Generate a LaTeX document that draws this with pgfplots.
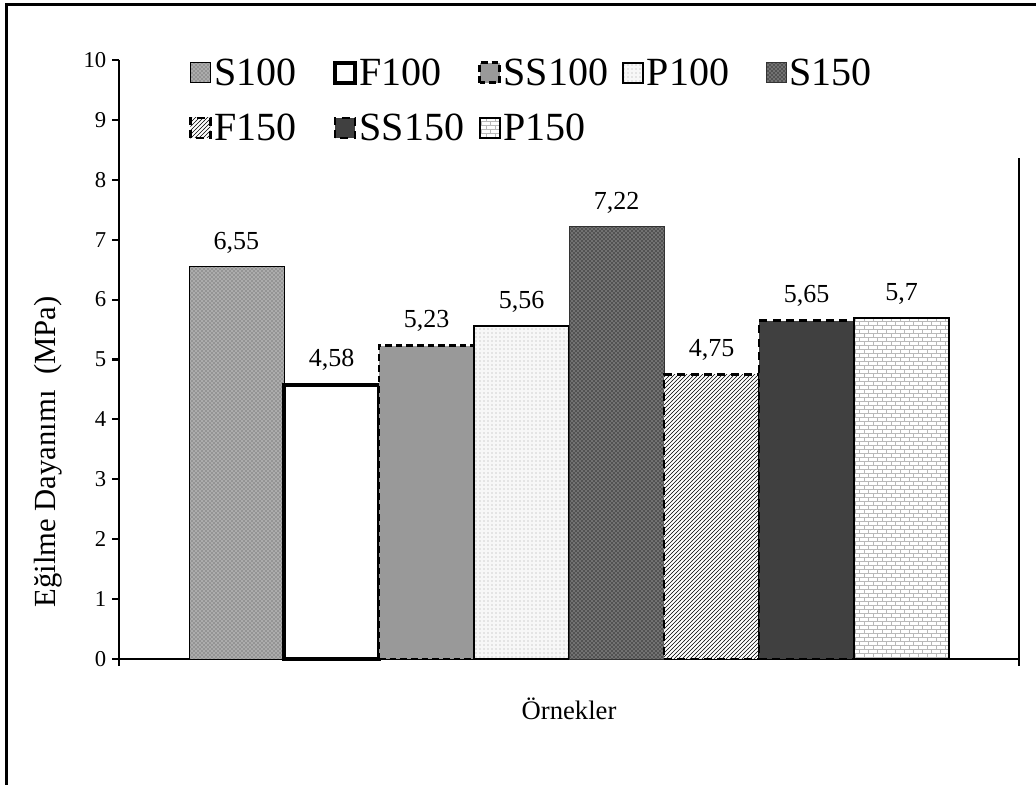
\documentclass[border=0pt]{standalone}
\usepackage{fontspec}
\setmainfont{Liberation Serif}
\usepackage{pgfplots}
\pgfplotsset{compat=1.18}
\usetikzlibrary{patterns}

% small light brick pattern for the P150 bar
\pgfdeclarepatternformonly{smallbricks}{\pgfqpoint{-0.5pt}{-0.5pt}}{\pgfqpoint{7.25pt}{6.5pt}}{\pgfqpoint{6.75pt}{6pt}}{%
  \pgfsetlinewidth{0.6pt}
  \pgfpathmoveto{\pgfqpoint{0pt}{0pt}}\pgfpathlineto{\pgfqpoint{6.75pt}{0pt}}
  \pgfpathmoveto{\pgfqpoint{0pt}{3pt}}\pgfpathlineto{\pgfqpoint{6.75pt}{3pt}}
  \pgfpathmoveto{\pgfqpoint{0pt}{0pt}}\pgfpathlineto{\pgfqpoint{0pt}{3pt}}
  \pgfpathmoveto{\pgfqpoint{3.375pt}{3pt}}\pgfpathlineto{\pgfqpoint{3.375pt}{6pt}}
  \pgfusepath{stroke}}

\begin{document}
\begin{tikzpicture}
\path[use as bounding box] (0,0) rectangle (777pt,-588.75pt);
% outer frame of the chart area
\draw[line width=2.2pt] (4.9pt,-600pt) -- (4.9pt,-3.4pt) -- (790pt,-3.4pt);
\begin{axis}[
  at={(89.25pt,-494.25pt)}, anchor=south west,
  scale only axis, width=675pt, height=449.25pt,
  xmin=-4.7368, xmax=4.7368, ymin=0, ymax=10,
  clip=false,
  axis x line*=bottom, axis y line*=left,
  axis line style={-, line width=1.6pt, black},
  ytick={0,1,...,10},
  yticklabels={0,1,2,3,4,5,6,7,8,9,10},
  xtick={-4.7368,4.7368}, xticklabels={,},
  tick align=outside, major tick length=5pt,
  every tick/.style={line width=1.6pt, black},
  yticklabel style={font=\fontsize{17}{19}\selectfont, xshift=-1pt},
  /pgf/number format/assume math mode=true,
  /pgf/number format/use comma,
  ybar, bar width=1,
  nodes near coords,
  every node near coord/.append style={font=\fontsize{19.5}{22}\selectfont, yshift=6pt, black},
  xlabel={Örnekler},
  xlabel style={at={(rel axis cs:0.5,-0.083)}, anchor=center, font=\fontsize{20}{22}\selectfont},
  ylabel={Eğilme Dayanımı\ \ (MPa)},
  ylabel style={at={(rel axis cs:-0.079,0.3456)}, anchor=center, rotate=0, font=\fontsize{23}{26}\selectfont},
  legend columns=5,
  legend cell align=left,
  legend image code/.code={\draw[#1] (0pt,-7.5pt) rectangle (15pt,7.5pt);},
  legend style={draw=none, fill=none, at={(rel axis cs:0.073,1.012)}, anchor=north west,
    font=\fontsize{30}{33}\selectfont, row sep=16pt,
    /tikz/every even column/.append style={column sep=0pt}},
]
\addplot[bar shift=0pt, draw=black, line width=0.6pt, fill=gray!65,
  postaction={pattern=crosshatch dots, pattern color=gray!55!black}]
  coordinates {(-3.5,6.55)};
\addlegendentry{\makebox[87pt][l]{S100}}
\addplot[bar shift=0pt, draw=black, line width=3pt, fill=white]
  coordinates {(-2.5,4.58)};
\addlegendentry{\makebox[87pt][l]{F100}}
\addplot[bar shift=0pt, draw=black, line width=2pt, dash pattern=on 5pt off 3pt, fill=gray!80]
  coordinates {(-1.5,5.23)};
\addlegendentry{\makebox[87pt][l]{SS100}}
\addplot[bar shift=0pt, draw=black, line width=1.5pt, fill=gray!6,
  postaction={pattern=dots, pattern color=gray!70}]
  coordinates {(-0.5,5.56)};
\addlegendentry{\makebox[87pt][l]{P100}}
\addplot[bar shift=0pt, draw=black!80, line width=0.6pt, fill=black!68,
  postaction={pattern=crosshatch dots, pattern color=gray!25}]
  coordinates {(0.5,7.22)};
\addlegendentry{\makebox[87pt][l]{S150}}
\addplot[bar shift=0pt, draw=black, line width=2pt, dash pattern=on 6pt off 4pt, fill=white,
  postaction={pattern=north east lines, pattern color=black}]
  coordinates {(1.5,4.75)};
\addlegendentry{\makebox[87pt][l]{F150}}
\addplot[bar shift=0pt, draw=black, line width=2pt, dash pattern=on 6pt off 4pt, fill=black!75]
  coordinates {(2.5,5.65)};
\addlegendentry{\makebox[87pt][l]{SS150}}
\addplot[bar shift=0pt, draw=black, line width=1.5pt, fill=white,
  postaction={pattern=smallbricks, pattern color=gray!55}]
  coordinates {(3.5,5.7)};
\addlegendentry{\makebox[87pt][l]{P150}}
% border line on the right of the plot area
\draw[line width=1.6pt] (rel axis cs:1,0.836) -- (rel axis cs:1,0);
\end{axis}
\end{tikzpicture}
\end{document}
